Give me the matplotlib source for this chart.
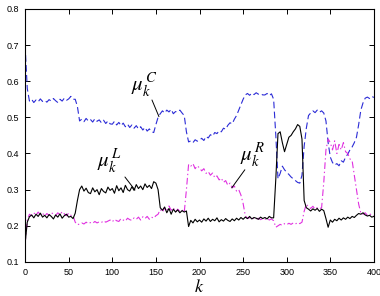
import numpy as np
import matplotlib
matplotlib.use('Agg')
import matplotlib.pyplot as plt

# k grid, step 2.5
k = np.arange(0, 400.1, 2.5)

mu_L = [
    0.150, 0.210, 0.225, 0.230, 0.222, 0.232, 0.226, 0.235, 0.224, 0.229,
    0.222, 0.231, 0.226, 0.219, 0.230, 0.224, 0.233, 0.221, 0.228, 0.232,
    0.224, 0.226, 0.220, 0.235, 0.270, 0.300, 0.310, 0.296, 0.304, 0.292,
    0.289, 0.305, 0.294, 0.300, 0.286, 0.303, 0.295, 0.291, 0.307, 0.298,
    0.303, 0.290, 0.311, 0.297, 0.305, 0.292, 0.312, 0.300, 0.296, 0.308,
    0.298, 0.314, 0.303, 0.310, 0.300, 0.316, 0.306, 0.312, 0.303, 0.322,
    0.318, 0.300, 0.250, 0.243, 0.252, 0.236, 0.248, 0.232, 0.246, 0.238,
    0.244, 0.236, 0.242, 0.238, 0.241, 0.198, 0.215, 0.208, 0.218, 0.211,
    0.216, 0.210, 0.219, 0.213, 0.221, 0.212, 0.218, 0.214, 0.222, 0.211,
    0.217, 0.213, 0.220, 0.215, 0.212, 0.219, 0.214, 0.221, 0.216, 0.223,
    0.218, 0.224, 0.220, 0.226, 0.219, 0.223, 0.221, 0.218, 0.224, 0.220,
    0.223, 0.219, 0.226, 0.222, 0.222, 0.330, 0.455, 0.460, 0.430, 0.405,
    0.425, 0.445, 0.450, 0.460, 0.468, 0.480, 0.475, 0.440, 0.270, 0.250,
    0.246, 0.241, 0.247, 0.243, 0.248, 0.240, 0.246, 0.242, 0.220, 0.196,
    0.216, 0.210, 0.218, 0.214, 0.221, 0.216, 0.222, 0.218, 0.224, 0.220,
    0.226, 0.223, 0.229, 0.234, 0.232, 0.236, 0.230, 0.227, 0.229, 0.224,
    0.226,
]

mu_C = [
    0.700, 0.580, 0.545, 0.550, 0.541, 0.548, 0.543, 0.551, 0.544, 0.547,
    0.542, 0.549, 0.545, 0.552, 0.546, 0.541, 0.550, 0.545, 0.553, 0.547,
    0.551, 0.558, 0.550, 0.550, 0.530, 0.490, 0.495, 0.488, 0.497, 0.490,
    0.494, 0.487, 0.496, 0.489, 0.493, 0.485, 0.492, 0.483, 0.490, 0.482,
    0.481, 0.489, 0.479, 0.486, 0.477, 0.484, 0.474, 0.481, 0.472, 0.479,
    0.470, 0.477, 0.468, 0.474, 0.465, 0.472, 0.462, 0.468, 0.460, 0.458,
    0.480, 0.500, 0.510, 0.518, 0.512, 0.520, 0.515, 0.522, 0.510, 0.516,
    0.515, 0.520, 0.512, 0.505, 0.460, 0.432, 0.435, 0.430, 0.438, 0.434,
    0.437, 0.442, 0.436, 0.447, 0.443, 0.452, 0.448, 0.458, 0.455, 0.463,
    0.460, 0.470, 0.467, 0.478, 0.485, 0.482, 0.495, 0.505, 0.520, 0.535,
    0.550, 0.562, 0.566, 0.561, 0.567, 0.563, 0.568, 0.564, 0.566, 0.562,
    0.562, 0.566, 0.560, 0.565, 0.550, 0.450, 0.330, 0.345, 0.365, 0.355,
    0.348, 0.342, 0.335, 0.330, 0.325, 0.320, 0.318, 0.340, 0.420, 0.470,
    0.505, 0.512, 0.518, 0.513, 0.520, 0.514, 0.518, 0.512, 0.490, 0.430,
    0.390, 0.375, 0.368, 0.372, 0.366, 0.380, 0.376, 0.390, 0.398, 0.410,
    0.418, 0.430, 0.445, 0.480, 0.520, 0.540, 0.553, 0.556, 0.552, 0.558,
    0.555,
]

mu_R = [
    0.150, 0.215, 0.232, 0.228, 0.236, 0.229, 0.238, 0.231, 0.235, 0.227,
    0.234, 0.229, 0.237, 0.232, 0.228, 0.236, 0.230, 0.239, 0.233, 0.228,
    0.235, 0.229, 0.228, 0.210, 0.203, 0.205, 0.208, 0.205, 0.210, 0.206,
    0.209, 0.207, 0.212, 0.208, 0.211, 0.209, 0.214, 0.210, 0.213, 0.216,
    0.211, 0.218, 0.214, 0.212, 0.220, 0.216, 0.213, 0.221, 0.217, 0.215,
    0.222, 0.218, 0.224, 0.216, 0.225, 0.220, 0.226, 0.218, 0.224, 0.221,
    0.228, 0.232, 0.245, 0.238, 0.250, 0.240, 0.255, 0.243, 0.250, 0.238,
    0.246, 0.240, 0.244, 0.237, 0.300, 0.370, 0.365, 0.372, 0.358, 0.366,
    0.360, 0.352, 0.358, 0.345, 0.350, 0.340, 0.346, 0.333, 0.338, 0.327,
    0.332, 0.320, 0.325, 0.312, 0.318, 0.305, 0.310, 0.296, 0.300, 0.285,
    0.262, 0.228, 0.220, 0.223, 0.218, 0.222, 0.219, 0.221, 0.217, 0.220,
    0.218, 0.221, 0.216, 0.219, 0.214, 0.196, 0.200, 0.204, 0.201, 0.206,
    0.203, 0.207, 0.204, 0.208, 0.205, 0.209, 0.206, 0.210, 0.240, 0.260,
    0.252, 0.248, 0.254, 0.246, 0.250, 0.247, 0.250, 0.320, 0.410, 0.440,
    0.430, 0.410, 0.435, 0.400, 0.425, 0.410, 0.430, 0.405, 0.400, 0.385,
    0.380, 0.340, 0.300, 0.260, 0.235, 0.232, 0.236, 0.229, 0.233, 0.230,
    0.228,
]

# label text, text anchor (left, centre), pointer start, pointer end
LABELS = [
    (r'$\mu_{k}^{\,C}$', (121, 0.587), (145.5, 0.548), (153.5, 0.502)),
    (r'$\mu_{k}^{\,L}$', (82, 0.377), (114.5, 0.335), (126, 0.299)),
    (r'$\mu_{k}^{\,R}$', (246, 0.393), (252, 0.355), (237, 0.305)),
]

plt.rcParams.update({'font.family': 'Liberation Sans', 'mathtext.fontset': 'stix',
                     'axes.linewidth': 0.8})

fig = plt.figure(figsize=(3.8, 2.96), dpi=100)
ax = fig.add_axes([0.066, 0.115, 0.918, 0.855])

ax.plot(k, mu_C, color='#2b2bd6', lw=0.8, dashes=(6, 3))
ax.plot(k, mu_R, color='#e030e0', lw=0.8, dashes=(6, 2.5, 1.2, 2.5))
ax.plot(k, mu_L, color='black', lw=0.8)

for txt, pos, p0, p1 in LABELS:
    ax.text(pos[0], pos[1], txt, fontsize=15, ha='left', va='center')
    ax.annotate('', xy=p1, xytext=p0,
                arrowprops=dict(arrowstyle='-', color='black', lw=0.7,
                                shrinkA=0, shrinkB=0))

ax.set_xlim(0, 400)
ax.set_ylim(0.1, 0.8)
ax.set_xticks(np.arange(0, 401, 50))
ax.set_yticks(np.arange(0.1, 0.81, 0.1))
ax.yaxis.set_major_formatter(matplotlib.ticker.FormatStrFormatter('%.1f'))
ax.tick_params(direction='in', length=3.5, width=0.7, labelsize=6.5,
               top=True, right=True, pad=4)
ax.set_xlabel(r'$k$', fontsize=13, labelpad=2)

fig.savefig('out.png', dpi=100)
